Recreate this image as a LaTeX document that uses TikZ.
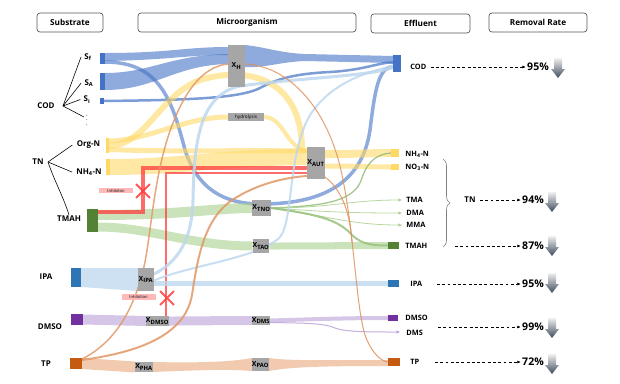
\documentclass[tikz,border=0pt]{standalone}
\usepackage{fontspec}
\setmainfont{Open Sans}
\usepackage{tikz}
\usetikzlibrary{arrows.meta, calc, backgrounds, decorations.pathreplacing, shapes.misc}
\definecolor{codblue}{HTML}{4472C4}
\definecolor{ipablue}{HTML}{2E75B6}
\definecolor{paleblue}{HTML}{BDD7EE}
\definecolor{tnyellow}{HTML}{FFD966}
\definecolor{tmahdark}{HTML}{548235}
\definecolor{tmahlight}{HTML}{A9D18E}
\definecolor{dmsopurple}{HTML}{7030A0}
\definecolor{dmsolight}{HTML}{B9A0D8}
\definecolor{tpbrown}{HTML}{C55A11}
\definecolor{tplight}{HTML}{E8A77B}
\definecolor{inhibred}{HTML}{FF3B3B}
\definecolor{inhibpink}{HTML}{FFB9B9}
\definecolor{boxgray}{HTML}{A6A6A6}
\definecolor{framegray}{HTML}{595959}
\definecolor{slate}{HTML}{3E4C5C}
\newdimen\pxu \pxu=0.03cm
\tikzset{
  headbox/.style={draw=framegray, line width=0.6pt, rounded corners=2.5pt, inner sep=0pt, font=\fontsize{7}{8}\selectfont\bfseries},
  bar/.style={inner sep=0pt, outer sep=0pt},
  mbox/.style={fill=boxgray, inner sep=0pt, outer sep=0pt, font=\fontsize{6}{7}\selectfont\bfseries},
  lbl/.style={inner sep=1pt, font=\fontsize{6.8}{8}\selectfont\bfseries},
  efflbl/.style={anchor=west, inner sep=1pt, font=\fontsize{6.3}{7.5}\selectfont\bfseries},
  pct/.style={inner sep=1pt, font=\fontsize{9}{10}\selectfont\bfseries},
  inhib/.style={fill=inhibpink, inner sep=0.3pt, minimum width=34\pxu, minimum height=5.5\pxu, font=\fontsize{3.5}{4}\selectfont},
  xmark/.style={cross out, draw=inhibred, line width=1.6pt, minimum size=12\pxu, inner sep=0pt, opacity=0.85},
  flow/.style={line cap=butt, opacity=0.6},
  thinflow/.style={line cap=round, opacity=0.85},
  ratearrow/.style={dash pattern=on 2.5pt off 2pt, line width=0.6pt, -{Latex[length=3pt,width=2.6pt]}},
  fanline/.style={line width=0.5pt},
  tipgreen/.style={-{Triangle[length=3pt,width=2.5pt]}},
}

\begin{document}
\begin{tikzpicture}[x=0.03cm, y=-0.03cm]
  \useasboundingbox (0,0) rectangle (620,383);

  % column headers
  \node[headbox, minimum width=66\pxu, minimum height=19\pxu] (hSub) at (70,22.5) {Substrate};
  \node[headbox, minimum width=218\pxu, minimum height=19\pxu] (hMic) at (247,22.5) {Microorganism};
  \node[headbox, minimum width=99\pxu, minimum height=19\pxu] (hEff) at (420.5,23.5) {Effluent};
  \node[headbox, minimum width=98\pxu, minimum height=19\pxu] (hRem) at (538,22.5) {Removal Rate};

  % substrate bars
  \node[bar, fill=codblue, minimum width=5\pxu, minimum height=11\pxu] (bSf) at (102.5,58.5) {};
  \node[bar, fill=codblue, minimum width=5\pxu, minimum height=17\pxu] (bSA) at (102.5,81.5) {};
  \node[bar, fill=codblue, minimum width=4\pxu, minimum height=6\pxu] (bSi) at (102,101) {};
  \node[bar, fill=tnyellow, minimum width=3\pxu, minimum height=15\pxu] (bOrg) at (107.5,145.5) {};
  \node[bar, fill=tnyellow, minimum width=4\pxu, minimum height=16\pxu] (bNH) at (108,167) {};
  \node[bar, fill=tmahdark, minimum width=11\pxu, minimum height=23\pxu] (bTMAH) at (92.5,220.5) {};
  \node[bar, fill=ipablue, minimum width=10\pxu, minimum height=19\pxu] (bIPA) at (76,277.5) {};
  \node[bar, fill=dmsopurple, minimum width=12\pxu, minimum height=11\pxu] (bDMSO) at (77,319.5) {};
  \node[bar, fill=tpbrown, minimum width=12\pxu, minimum height=11\pxu] (bTP) at (76,363.5) {};

  % substrate labels
  \node[lbl] (lSf) at (88,57) {S\textsubscript{f}};
  \node[lbl] (lSA) at (89,83) {S\textsubscript{A}};
  \node[lbl] (lSi) at (87,99.5) {S\textsubscript{i}};
  \node[lbl, inner sep=0pt, font=\fontsize{5}{5}\selectfont] (lDots) at (87,117) {$\vdots$};
  \node[lbl] (lCOD) at (46,106) {COD};
  \node[lbl] (lTN) at (38,162) {TN};
  \node[lbl] (lOrg) at (88.5,145) {Org-N};
  \node[lbl] (lNH) at (89,172) {NH\textsubscript{4}-N};
  \node[lbl] (lTMAH) at (69,219) {TMAH};
  \node[lbl] (lIPA) at (46,277) {IPA};
  \node[lbl] (lDMSO) at (50,327) {DMSO};
  \node[lbl] (lTP) at (46,364) {TP};

  \coordinate (codFan) at (63,106);
  \foreach \t in {lSf, lSA, lSi, lDots}
    \draw[fanline] (codFan) -- ([xshift=-2\pxu]\t.west);
  \coordinate (tnFan) at (48,162);
  \draw[fanline] (tnFan) -- ([xshift=-3\pxu]lOrg.west);
  \draw[fanline] (tnFan) -- ([xshift=-3\pxu]lNH.west);
  \draw[fanline] (tnFan) .. controls (54,180) and (63,196) .. (lTMAH.north);

  % microorganisms
  \node[mbox, minimum width=17\pxu, minimum height=42\pxu] (xH) at (236.5,66) {X\textsubscript{H}};
  \node[mbox, minimum width=36\pxu, minimum height=8\pxu, font=\fontsize{4}{4.5}\selectfont] (hyd) at (246,117) {hydrolysis};
  \node[mbox, minimum width=18\pxu, minimum height=32\pxu] (xAUT) at (316,163) {X\textsubscript{AUT}};
  \node[mbox, minimum width=17\pxu, minimum height=16\pxu] (xTNO) at (261.5,208) {X\textsubscript{TNO}};
  \node[mbox, minimum width=16\pxu, minimum height=14\pxu] (xTAO) at (261,246) {X\textsubscript{TAO}};
  \node[mbox, minimum width=16\pxu, minimum height=23\pxu] (xIPA) at (146,279.5) {X\textsubscript{IPA}};
  \node[mbox, minimum width=17\pxu, minimum height=10\pxu] (xDMSO) at (157.5,321) {X\textsubscript{DMSO}};
  \node[mbox, minimum width=18\pxu, minimum height=9\pxu] (xDMS) at (261,320.5) {X\textsubscript{DMS}};
  \node[mbox, minimum width=14\pxu, minimum height=10\pxu] (xPHA) at (144,367) {X\textsubscript{PHA}};
  \node[mbox, minimum width=17\pxu, minimum height=13\pxu] (xPAO) at (260.5,364.5) {X\textsubscript{PAO}};

  % inhibition marks
  \node[xmark] (xInhib1) at (143,191) {};
  \node[xmark] (xInhib2) at (167,298) {};
  \node[inhib] (iLab1) at (116,190.5) {Inhibiton};
  \node[inhib] (iLab2) at (138.5,297) {Inhibition};

  % effluent
  \node[bar, fill=codblue, minimum width=8\pxu, minimum height=17\pxu] (eCOD) at (397,63.5) {};
  \node[bar, fill=tnyellow, minimum width=8\pxu, minimum height=8\pxu] (eNH) at (395,153) {};
  \node[bar, fill=tnyellow, minimum width=8\pxu, minimum height=6\pxu] (eNO) at (395,167) {};
  \coordinate (eTMA) at (402,200);
  \coordinate (eDMA) at (402,213);
  \coordinate (eMMA) at (402,225);
  \node[bar, fill=tmahdark, minimum width=11\pxu, minimum height=7\pxu] (eTMAH) at (393.5,245.5) {};
  \node[bar, fill=ipablue, minimum width=11\pxu, minimum height=7\pxu] (eIPA) at (393.5,283.5) {};
  \node[bar, fill=dmsopurple, minimum width=10\pxu, minimum height=6\pxu] (eDMSO) at (393,318) {};
  \coordinate (eDMS) at (400,332);
  \node[bar, fill=tpbrown, minimum width=12\pxu, minimum height=8\pxu] (eTP) at (394,362) {};

  \node[efflbl] (tCOD) at (409,67) {COD};
  \node[efflbl] (tNH) at (404,154) {NH\textsubscript{4}-N};
  \node[efflbl] (tNO) at (404,167.5) {NO\textsubscript{3}-N};
  \node[efflbl] (tTMA) at (405,200) {TMA};
  \node[efflbl] (tDMA) at (405,212.5) {DMA};
  \node[efflbl] (tMMA) at (405,225) {MMA};
  \node[efflbl] (tTMAH) at (404,246) {TMAH};
  \node[efflbl] (tIPA) at (409,284) {IPA};
  \node[efflbl] (tDMSO) at (404,318) {DMSO};
  \node[efflbl] (tDMS) at (405,333) {DMS};
  \node[efflbl] (tTP) at (409,361.5) {TP};
  \node[lbl] (tTN) at (470,200) {TN};
  \draw[decorate, decoration={brace, amplitude=6pt}, draw=gray, line width=0.5pt] (443,159) -- (443,247);

  % removal rates
  \node[pct] (pCOD) at (538,67) {95\%};
  \node[pct] (pTN) at (533,200) {94\%};
  \node[pct] (pTMAH) at (533,246) {87\%};
  \node[pct] (pIPA) at (533,284) {95\%};
  \node[pct] (pDMS) at (533,327) {99\%};
  \node[pct] (pTP) at (533,362) {72\%};
  \coordinate (tmahDash) at (455,246);
  \coordinate (ipaDash) at (437,284);
  \coordinate (dmsDash) at (438,327);
  \coordinate (tpDash) at (435,362);
  \draw[ratearrow] ([xshift=3\pxu]tCOD.east) -- (pCOD.west);
  \draw[ratearrow] ([xshift=3\pxu]tTN.east) -- (pTN.west);
  \draw[ratearrow] (tmahDash) -- (pTMAH.west);
  \draw[ratearrow] (ipaDash) -- (pIPA.west);
  \draw[ratearrow] (dmsDash) -- (pDMS.west);
  \draw[ratearrow] (tpDash) -- (pTP.west);
  \foreach \ax/\ay in {558/68, 552/202, 552/246, 552/283, 552/328, 552/364} {
    \shade[top color=gray!12, bottom color=slate] (\ax-4,\ay-10) -- (\ax+4,\ay-10) -- (\ax+4,\ay+1) -- (\ax+7,\ay+1) -- (\ax,\ay+10) -- (\ax-7,\ay+1) -- (\ax-4,\ay+1) -- cycle;
  }

  \begin{pgfonlayer}{background}
    % COD flows
    \fill[codblue, flow] (bSf.north east) .. controls (170,53) and (185,47) .. ($(xH.north west)+(0,2)$) -- ($(xH.north west)+(0,10)$) .. controls (185,55) and (170,60) .. ($(bSf.south east)+(0,-3)$) -- cycle;
    \fill[codblue, flow] (bSA.north east) .. controls (150,73) and (170,55) .. ($(xH.north west)+(0,9)$) -- ($(xH.north west)+(0,19)$) .. controls (175,65) and (155,90) .. (bSA.south east) -- cycle;
    \fill[codblue, flow] (xH.north east) .. controls (265,47) and (280,53) .. (305,54) -- ($(eCOD.north west)+(0,1)$) -- ($(eCOD.north west)+(0,8)$) -- (305,61) .. controls (280,62) and (265,68) .. ($(xH.north east)+(0,22)$) -- cycle;
    \draw[codblue, flow, line width=3.5\pxu] ($(bSf.south east)+(0,-2)$) .. controls (160,62) and (172,100) .. (185,150) .. controls (198,190) and (225,204) .. (261,204) .. controls (320,204) and (362,185) .. (370,130) .. controls (375,90) and (378,68) .. ($(eCOD.west)+(0,3)$);
    \draw[codblue, thinflow, line width=2.5\pxu, opacity=0.7] (bSi.east) .. controls (180,100) and (235,99) .. (258,89) .. controls (275,80) and (290,74) .. (330,72) .. controls (365,70) and (380,62) .. ($(eCOD.west)+(0,-1)$);

    % TN flows
    \fill[tnyellow, flow] (bNH.north east) .. controls (180,159) and (220,149) .. ($(xAUT.north west)+(0,2)$) -- ($(xAUT.north west)+(0,18)$) .. controls (220,166) and (180,175) .. (bNH.south east) -- cycle;
    \draw[tnyellow, flow, line width=5\pxu] ($(bOrg.east)+(0,4)$) .. controls (170,152) and (230,150) .. ($(xAUT.north west)+(0,4)$);
    \draw[tnyellow, flow, line width=5\pxu] ($(bOrg.north east)+(0,3)$) .. controls (150,140) and (185,117) .. (hyd.west);
    \draw[tnyellow, flow, line width=4\pxu] (hyd.east) .. controls (284,117) and (286,148) .. ($(xAUT.north west)+(0,4)$);
    \draw[tnyellow, flow, line width=6\pxu] (bOrg.east) .. controls (145,146) and (160,95) .. (200,80) .. controls (250,65) and (302,80) .. ($(xAUT.north west)+(-5,3)$);
    \draw[tnyellow, flow, line width=8\pxu] ($(xAUT.north east)+(0,7)$) .. controls (360,154) and (370,153) .. (eNH.west);
    \draw[tnyellow, flow, line width=5\pxu] ($(xAUT.north east)+(0,19)$) .. controls (360,166) and (370,167) .. (eNO.west);

    % TMAH flows
    \draw[tmahlight, flow, line width=10\pxu] ($(bTMAH.north east)+(0,6)$) .. controls (180,215) and (215,208) .. (xTNO.west);
    \draw[tmahlight, flow, line width=9\pxu] ($(bTMAH.south east)+(0,-5)$) .. controls (150,227) and (190,246) .. (xTAO.west);
    \draw[tmahlight, flow, line width=7\pxu] (xTAO.east) .. controls (320,246) and (350,245.5) .. (eTMAH.west);
    \draw[tmahlight!75!tmahdark, thinflow, line width=1.3\pxu] (xTNO.east) .. controls (330,206) and (355,200) .. (362,178) .. controls (368,160) and (378,154) .. (eNH.west);
    \draw[tmahlight, thinflow, line width=0.8\pxu, tipgreen] (xTNO.east) .. controls (330,208) and (350,200) .. (eTMA);
    \draw[tmahlight, thinflow, line width=0.8\pxu, tipgreen] (xTNO.east) .. controls (330,212) and (350,213) .. (eDMA);
    \draw[tmahlight, thinflow, line width=0.8\pxu, tipgreen] (xTNO.east) .. controls (330,216) and (350,225) .. (eMMA);
    \draw[tmahlight!80!tmahdark, thinflow, line width=2\pxu] (xTNO.east) .. controls (325,215) and (340,222) .. (352,235) .. controls (362,245) and (375,245.5) .. (eTMAH.west);

    % inhibition lines
    \coordinate (rBend1) at (143,168);
    \coordinate (rBend2) at (166,173);
    \draw[inhibred, line width=4\pxu, opacity=0.75] ($(bTMAH.north east)+(0,3)$) -| (rBend1) -- (rBend1 -| xAUT.west);
    \draw[inhibred, line width=2\pxu, opacity=0.75] (rBend2 -| xAUT.west) -- (rBend2) -- (rBend2 |- xDMSO.north);

    % IPA flows
    \fill[paleblue, opacity=0.75] (bIPA.north east) -- (xIPA.north west) -- (xIPA.south west) -- (bIPA.south east) -- cycle;
    \draw[paleblue, line width=4.5\pxu, opacity=0.8] ($(xIPA.east)+(0,4)$) -- (eIPA.west);
    \draw[paleblue, thinflow, line width=3\pxu] ($(xIPA.north east)+(0,6)$) .. controls (178,262) and (192,240) .. (193,200) .. controls (194,140) and (200,95) .. (240,86) .. controls (300,78) and (370,76) .. ($(eCOD.west)+(0,4)$);
    \draw[paleblue, thinflow, line width=2\pxu] ($(xIPA.east)+(0,1)$) .. controls (190,265) and (260,258) .. (280,237) .. controls (294,220) and (287,150) .. (312,112) .. controls (335,80) and (370,72) .. ($(eCOD.west)+(0,2)$);

    % DMSO flows
    \draw[dmsolight, flow, line width=10\pxu] (bDMSO.east) -- (xDMSO.west);
    \draw[dmsolight, flow, line width=9\pxu] (xDMSO.east) .. controls (200,321) and (220,320.5) .. (xDMS.west);
    \draw[dmsolight, flow, line width=4\pxu] (xDMS.east) .. controls (320,319) and (350,318) .. (eDMSO.west);
    \draw[dmsolight, thinflow, line width=1\pxu, -{Triangle[length=3pt,width=2.5pt]}] ($(xDMS.east)+(0,2)$) .. controls (300,323) and (325,323) .. (335,328) .. controls (345,332) and (370,332) .. (eDMS);

    % TP flows
    \draw[tplight, flow, line width=11\pxu] (bTP.east) -- (xPHA.west);
    \fill[tplight, flow] (xPHA.north east) .. controls (200,363) and (230,362) .. (xPAO.north west) -- (xPAO.south west) .. controls (230,369) and (200,370) .. (xPHA.south east) -- cycle;
    \fill[tplight, flow] (xPAO.north east) .. controls (290,361) and (320,360) .. ($(eTP.north west)+(0,2)$) -- (eTP.south west) .. controls (320,366) and (290,367) .. (xPAO.south east) -- cycle;
    \draw[tplight!80!tpbrown, thinflow, line width=1.5\pxu] ($(bTP.north east)+(0,1)$) .. controls (120,340) and (137,300) .. (145,262) .. controls (152,225) and (155,165) .. (175,118) .. controls (190,82) and (208,66) .. ($(xH.west)+(0,-2)$);
    \draw[tplight!80!tpbrown, thinflow, line width=2\pxu] ($(bTP.north east)+(0,2)$) .. controls (140,352) and (185,335) .. (192,295) .. controls (198,255) and (205,215) .. (237,197) .. controls (262,182) and (290,177) .. ($(xAUT.south west)+(0,-3)$);
    \draw[tplight!70!tpbrown, thinflow, line width=1\pxu] ($(xH.east)+(0,-2)$) .. controls (290,66) and (330,110) .. (343,180) .. controls (355,240) and (356,310) .. (366,338) .. controls (372,352) and (380,361) .. (eTP.west);
    \coordinate (autTail) at (352,242);
    \draw[tplight!70!tpbrown, thinflow, line width=1\pxu] ($(xAUT.south east)+(0,-2)$) .. controls (340,188) and (350,210) .. (autTail);
  \end{pgfonlayer}
\end{tikzpicture}
\end{document}
